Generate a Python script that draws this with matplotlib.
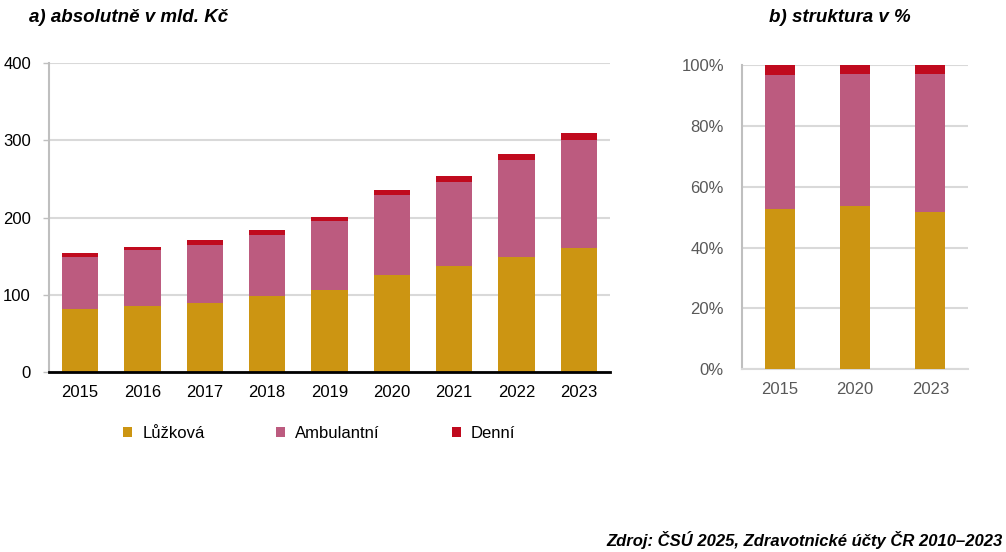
import matplotlib
matplotlib.use("Agg")
import matplotlib.pyplot as plt
import numpy as np
from matplotlib.patches import Patch

plt.rcParams['font.family'] = ['Liberation Sans', 'DejaVu Sans']

# hodnoty (mld. Kč)
roky = ['2015', '2016', '2017', '2018', '2019', '2020', '2021', '2022', '2023']
luzkova = [81, 86, 90, 98, 106.5, 126, 137, 149, 160]
ambulantni = [68.5, 71.5, 75, 80, 89, 103, 109.5, 126, 141]
denni = [4.7, 4.7, 5.3, 6.0, 5.6, 6.5, 7.3, 7.3, 8.6]

# struktura v %
roky_b = ['2015', '2020', '2023']
luzkova_pct = [52.7, 53.6, 51.6]
ambulantni_pct = [44.1, 43.4, 45.7]
denni_pct = [3.2, 3.0, 2.7]

nazvy = ['Lůžková', 'Ambulantní', 'Denní']
barvy = ['#CC9512', '#BC5B7F', '#C00A1E']
grid_c = '#D9D9D9'
fs = 12
fs_tit = 13.5

fig = plt.figure(figsize=(10.06, 5.52), dpi=100)

# ---------------- a) absolutně
ax1 = fig.add_axes([49 / 1006, 0.326, 561 / 1006, 0.5598])
x = np.arange(len(roky))
l = np.array(luzkova)
a = np.array(ambulantni)
d = np.array(denni)
ax1.bar(x, l, width=0.58, color=barvy[0], zorder=3)
ax1.bar(x, a, width=0.58, bottom=l, color=barvy[1], zorder=3)
ax1.bar(x, d, width=0.58, bottom=l + a, color=barvy[2], zorder=3)
ax1.set_xlim(-0.5, len(roky) - 0.5)
ax1.set_ylim(0, 400)
ax1.set_yticks([0, 100, 200, 300, 400])
ax1.set_xticks(x)
ax1.set_xticklabels(roky)
ax1.yaxis.grid(True, color=grid_c, linewidth=1.5, zorder=0)
ax1.tick_params(axis='y', length=4, color='#BFBFBF', width=1, pad=9, labelsize=fs, labelcolor='black')
ax1.tick_params(axis='x', length=0, pad=9, labelsize=fs, labelcolor='black')
for s in ['top', 'right']:
    ax1.spines[s].set_visible(False)
ax1.spines['left'].set_color('#BFBFBF')
ax1.spines['left'].set_linewidth(1.5)
ax1.spines['bottom'].set_color('black')
ax1.spines['bottom'].set_linewidth(2)
ax1.spines['bottom'].set_zorder(4)
fig.text(29 / 1006, 1 - 17 / 552, 'a) absolutně v mld. Kč', fontsize=fs_tit, fontweight='bold',
         fontstyle='italic', ha='left', va='center')

# ---------------- b) struktura v %
ax2 = fig.add_axes([0.7376, 0.331, 0.2247, 0.5507])
xb = np.arange(len(roky_b))
lp = np.array(luzkova_pct)
ap = np.array(ambulantni_pct)
dp = np.array(denni_pct)
ax2.bar(xb, lp, width=0.4, color=barvy[0], zorder=3)
ax2.bar(xb, ap, width=0.4, bottom=lp, color=barvy[1], zorder=3)
ax2.bar(xb, dp, width=0.4, bottom=lp + ap, color=barvy[2], zorder=3)
ax2.set_xlim(-0.5, len(roky_b) - 0.5)
ax2.set_ylim(0, 100)
ax2.set_yticks(range(0, 101, 20))
ax2.set_yticklabels([f'{v}%' for v in range(0, 101, 20)])
ax2.set_xticks(xb)
ax2.set_xticklabels(roky_b)
ax2.yaxis.grid(True, color=grid_c, linewidth=1.5, zorder=0)
ax2.tick_params(axis='y', length=0, pad=13, labelsize=fs, labelcolor='#595959')
ax2.tick_params(axis='x', length=0, pad=9, labelsize=fs, labelcolor='#595959')
for s in ['top', 'right']:
    ax2.spines[s].set_visible(False)
ax2.spines['left'].set_color('#BFBFBF')
ax2.spines['left'].set_linewidth(1.5)
ax2.spines['bottom'].set_color(grid_c)
ax2.spines['bottom'].set_linewidth(1.5)
fig.text(840 / 1006, 1 - 17 / 552, 'b) struktura v %', fontsize=fs_tit, fontweight='bold',
         fontstyle='italic', ha='center', va='center')

# legenda
handles = [Patch(facecolor=c, edgecolor='none') for c in barvy]
fig.legend(handles, nazvy, loc='center left', bbox_to_anchor=(108 / 1006, 1 - 433 / 552),
           ncol=3, frameon=False, fontsize=fs, handlelength=0.55, handleheight=0.55,
           handletextpad=0.6, columnspacing=4.3)

# zdroj
fig.text(1003 / 1006, 1 - 540 / 552, 'Zdroj: ČSÚ 2025, Zdravotnické účty ČR 2010–2023',
         fontsize=12, fontweight='bold', fontstyle='italic', ha='right', va='center')

fig.savefig('out.png', dpi=100)
